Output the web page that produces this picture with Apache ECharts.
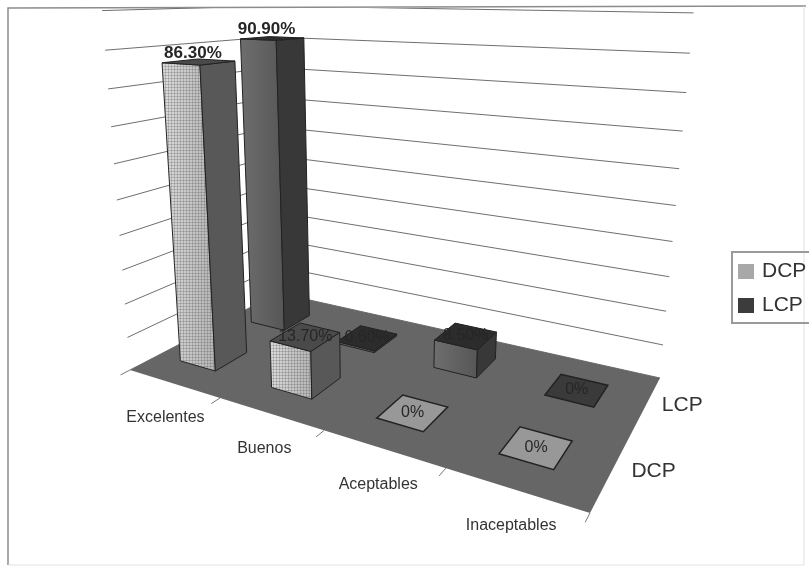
<!DOCTYPE html>
<html>
<head>
<meta charset="utf-8">
<style>html,body{margin:0;padding:0;background:#fff}#chart{width:809px;height:567px}</style>
<script src="https://cdn.jsdelivr.net/npm/echarts@6/dist/echarts.min.js"></script>
</head>
<body>
<div id="chart"></div>
<script>
// Ratings per category for each period.
const categories = ['Excelentes', 'Buenos', 'Aceptables', 'Inaceptables'];
const seriesNames = ['DCP', 'LCP'];
const dcpValues = [86.3, 13.7, 0, 0];
const lcpValues = [90.9, 0.6, 8.5, 0];
const gridTicks = [0, 10, 20, 30, 40, 50, 60, 70, 80, 90, 100];

// Camera of the 3D scene: the floor quad corners and the point where verticals converge.
const FLOOR = [[130, 370], [590, 513], [660, 378], [278, 293]];
const VANISH = [373, 3500];
const HEIGHT_K = -0.103;
const GRID_W = 400, GRID_H = 200;
const BAR_W = 0.40, BAR_D = 0.40, BAR_X = 0.25;

const homography = (function () {
  const [[x0, y0], [x1, y1], [x2, y2], [x3, y3]] = FLOOR;
  const dx1 = x1 - x2, dx2 = x3 - x2, sx = x0 - x1 + x2 - x3;
  const dy1 = y1 - y2, dy2 = y3 - y2, sy = y0 - y1 + y2 - y3;
  const den = dx1 * dy2 - dx2 * dy1;
  const g = (sx * dy2 - dx2 * sy) / den;
  const h = (dx1 * sy - sx * dy1) / den;
  return { a: x1 - x0 + g * x1, b: x3 - x0 + h * x3, c: x0,
           d: y1 - y0 + g * y1, e: y3 - y0 + h * y3, f: y0, g, h };
})();

// Category position and value go through the axes; depth is measured in series rows.
function project(api, cat, row, value) {
  const p = api.coord([cat, value]);
  const u = p[0] / GRID_W, z = (GRID_H - p[1]) / GRID_H, v = row / 2;
  const H = homography;
  const w = H.g * u + H.h * v + 1 + HEIGHT_K * z;
  return [(H.a * u + H.b * v + H.c + HEIGHT_K * z * VANISH[0]) / w,
          (H.d * u + H.e * v + H.f + HEIGHT_K * z * VANISH[1]) / w];
}

function dotTile() {
  const c = document.createElement('canvas');
  c.width = c.height = 3;
  const ctx = c.getContext('2d');
  ctx.fillStyle = 'rgba(90,90,90,0.28)';
  ctx.fillRect(0, 0, 1, 3);
  ctx.fillRect(0, 0, 3, 1);
  return c;
}
const dots = dotTile();

const PALETTE = {
  DCP: { front: ['#dcdcdc', '#b4b4b4'], side: '#585858', top: '#4a4a4a', plate: '#989898', dotted: true, inset: 0.33 },
  LCP: { front: ['#6e6e6e', '#565656'], side: '#383838', top: '#2c2c2c', plate: '#3a3a3a', dotted: false, inset: 0.27 }
};
const EDGE = '#222222';

function poly(points, fill, lineWidth) {
  return { type: 'polygon', shape: { points }, silent: true,
           style: { fill, stroke: EDGE, lineWidth: lineWidth === undefined ? 1 : lineWidth } };
}
function valueLabel(v) { return v === 0 ? '0%' : v.toFixed(2) + '%'; }

function renderBar(row, colors) {
  return function (params, api) {
    const cat = api.value(0), val = api.value(1);
    const x0 = cat + BAR_X, x1 = x0 + BAR_W;
    const d0 = row + colors.inset, d1 = d0 + BAR_D;
    const p = (x, d, z) => project(api, x, d, z);
    const topQuad = [p(x0, d0, val), p(x1, d0, val), p(x1, d1, val), p(x0, d1, val)];
    const centre = p((x0 + x1) / 2, (d0 + d1) / 2, val);
    const children = [];
    if (val > 0) {
      const frontFill = new echarts.graphic.LinearGradient(0, 0, 1, 0, [
        { offset: 0, color: colors.front[0] }, { offset: 1, color: colors.front[1] }]);
      const front = [p(x0, d0, 0), p(x1, d0, 0), p(x1, d0, val), p(x0, d0, val)];
      children.push(poly(front, frontFill));
      if (colors.dotted) {
        children.push({ type: 'polygon', shape: { points: front }, silent: true,
                        style: { fill: { image: dots, repeat: 'repeat' }, stroke: null } });
      }
      children.push(poly([p(x1, d0, 0), p(x1, d1, 0), p(x1, d1, val), p(x1, d0, val)], colors.side));
      children.push(poly(topQuad, colors.top));
    } else {
      children.push(poly(topQuad, colors.plate, 1.5));
    }
    children.push({ type: 'text', silent: true, style: {
      text: valueLabel(val), x: centre[0] - (val > 50 ? 6 : 0), y: centre[1] - (val > 50 ? 9 : 0),
      fontFamily: 'Liberation Sans', fontSize: val > 50 ? 17 : 16, fontWeight: val > 50 ? 'bold' : 'normal',
      fill: '#262626', align: 'center', verticalAlign: 'middle' } });
    return { type: 'group', children };
  };
}

function renderGridline(params, api) {
  const t = api.value(0);
  const a = project(api, 0, 0, t), b = project(api, 0, 2, t), c = project(api, 4, 2, t);
  return { type: 'polyline', silent: true, shape: { points: [a, b, c] },
           clipPath: { type: 'rect', shape: { x: 8, y: 8, width: 797, height: 557 } },
           style: { fill: null, stroke: '#6f6f6f', lineWidth: 1 } };
}

function renderFloor(params, api) {
  const children = [poly([project(api, 0, 0, 0), project(api, 4, 0, 0), project(api, 4, 2, 0), project(api, 0, 2, 0)], '#666666', 0)];
  for (let i = 0; i <= 4; i++) {
    children.push({ type: 'line', silent: true,
      shape: { x1: project(api, i, 0, 0)[0], y1: project(api, i, 0, 0)[1],
               x2: project(api, i, -0.1, 0)[0], y2: project(api, i, -0.1, 0)[1] },
      style: { stroke: '#777', lineWidth: 1 } });
  }
  return { type: 'group', children };
}

function renderCategoryLabel(params, api) {
  const i = api.value(0);
  const p = project(api, i + 0.5 + 0.34 - 0.075 * i, -0.42 + 0.025 * i, 0);
  return { type: 'text', silent: true, style: {
    text: categories[i], x: p[0], y: p[1], fontFamily: 'Liberation Sans', fontSize: 16,
    fill: '#333', align: 'center', verticalAlign: 'middle' } };
}

function renderRowLabel(params, api) {
  const i = api.value(0);
  const p = project(api, 4.25, i + 0.63, 0);
  return { type: 'text', silent: true, style: {
    text: seriesNames[i], x: p[0], y: p[1], fontFamily: 'Liberation Sans', fontSize: 21,
    fill: '#333', align: 'center', verticalAlign: 'middle' } };
}

const axisCommon = { show: false, splitLine: { show: false } };
const chart = echarts.init(document.getElementById('chart'), null, { renderer: 'canvas' });
chart.setOption({
  animation: false,
  backgroundColor: '#ffffff',
  grid: { show: false, left: 0, top: 0, width: GRID_W, height: GRID_H },
  xAxis: Object.assign({ type: 'value', min: 0, max: 4 }, axisCommon),
  yAxis: Object.assign({ type: 'value', min: 0, max: 100, interval: 10 }, axisCommon),
  legend: {
    left: 732, top: 252, orient: 'vertical', icon: 'rect', itemWidth: 16, itemHeight: 15, itemGap: 13,
    padding: [9, 30, 7, 6], borderColor: '#9a9a9a', borderWidth: 2,
    textStyle: { fontFamily: 'Liberation Sans', fontSize: 21, color: '#333', padding: [0, 0, 0, 3] },
    selectedMode: false, data: seriesNames
  },
  graphic: [
    { type: 'polyline', silent: true, shape: { points: [[8, 565], [8, 8], [806, 6]] },
      style: { fill: null, stroke: '#8c8c8c', lineWidth: 1.5 } },
    { type: 'polyline', silent: true, shape: { points: [[8, 565], [804, 565], [804, 6]] },
      style: { fill: null, stroke: '#e2e2e2', lineWidth: 1 } }
  ],
  series: [
    { type: 'custom', name: 'walls', z: 2, renderItem: renderGridline, data: gridTicks.map(t => [t]) },
    { type: 'custom', name: 'floor', z: 3, renderItem: renderFloor, data: [[0, 0]] },
    { type: 'custom', name: 'LCP', z: 4, renderItem: renderBar(1, PALETTE.LCP),
      data: lcpValues.map((v, i) => [i, v]), itemStyle: { color: '#3c3c3c' } },
    { type: 'custom', name: 'DCP', z: 5, renderItem: renderBar(0, PALETTE.DCP),
      data: dcpValues.map((v, i) => [i, v]), itemStyle: { color: '#a8a8a8' } },
    { type: 'custom', name: 'categories', z: 6, renderItem: renderCategoryLabel, data: categories.map((c, i) => [i]) },
    { type: 'custom', name: 'rows', z: 6, renderItem: renderRowLabel, data: seriesNames.map((s, i) => [i]) }
  ]
});
</script>
</body>
</html>
